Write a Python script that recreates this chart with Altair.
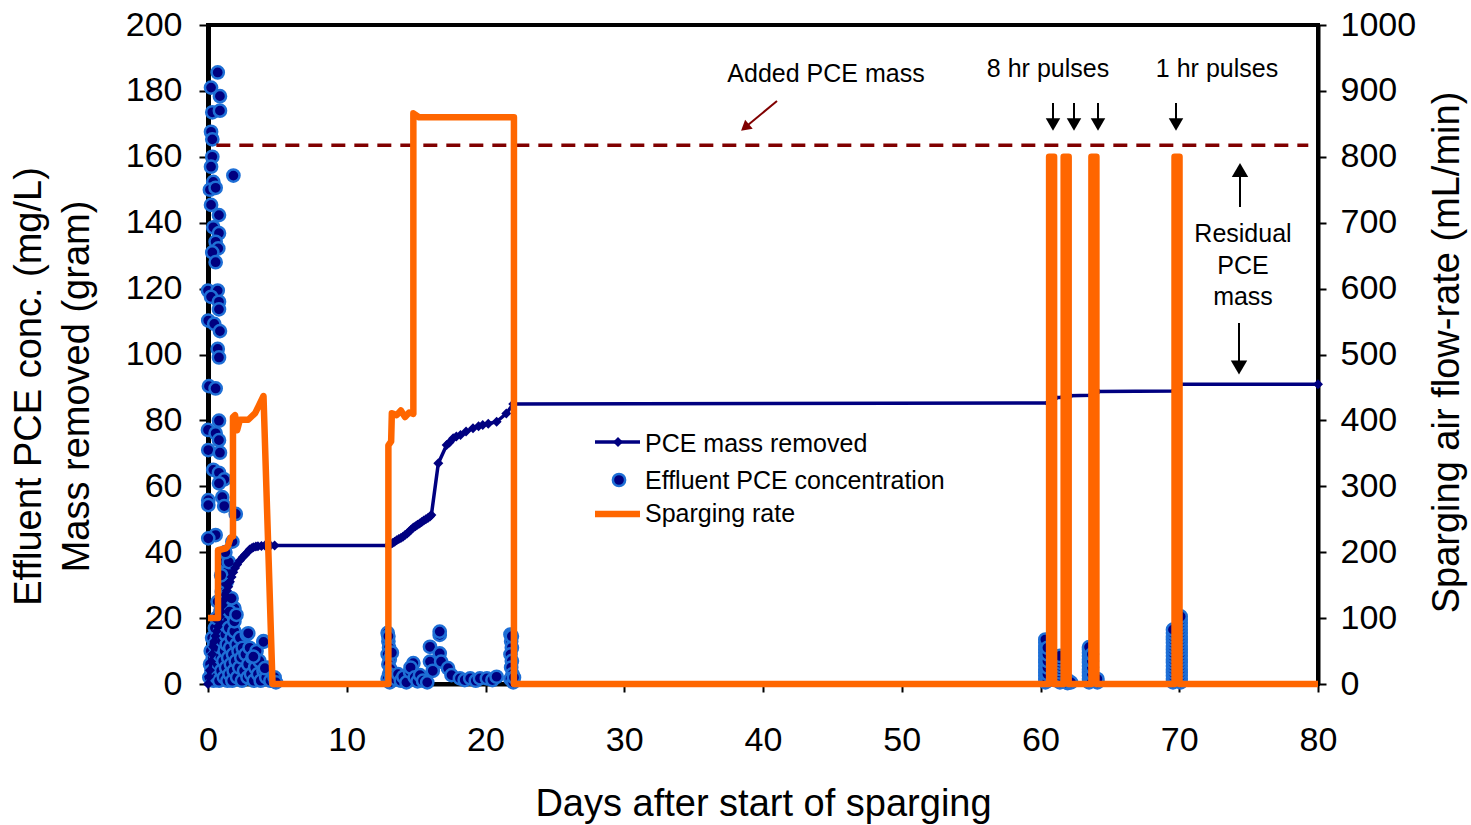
import altair as alt
import pandas as pd

# ---------------- data ----------------
# PCE mass removed (gram) - left axis
mass_day = [0, 0.07, 0.14, 0.22, 0.3, 0.38, 0.46, 0.54, 0.62, 0.7, 0.78, 0.86, 0.95, 1.05, 1.15,
            1.25, 1.35, 1.46, 1.58, 1.7, 1.82, 1.95, 2.1, 2.3, 2.5, 2.67, 2.85, 3.0, 3.15, 3.27,
            3.45, 3.6, 3.85, 4.1, 4.5, 4.8,
            13.0, 13.15, 13.3, 13.45, 13.6, 13.75, 13.9, 14.05, 14.2, 14.35, 14.5, 14.65, 14.8,
            14.95, 15.1, 15.25, 15.4, 15.55, 15.7, 15.85, 16.0, 16.1, 16.6, 17.2, 17.4, 17.67,
            17.9, 18.2, 18.6, 19.1, 19.5, 19.8, 20.2, 20.8, 21.5, 22.0,
            60.6, 61.0, 61.7, 62.05, 63.7, 64.05, 69.7, 69.95, 80.0]
mass_gram = [0, 2.2, 4.2, 6.8, 9.0, 11.3, 13.0, 14.6, 16.0, 17.4, 18.9, 20.4, 22.0, 23.8, 25.5,
             27.0, 28.3, 29.5, 31.0, 32.5, 33.9, 35.2, 36.3, 37.5, 38.5, 39.2, 40.0, 40.8, 41.2, 41.5,
             41.7, 41.8, 41.9, 42.0, 42.0, 42.0,
             42.0, 42.4, 42.8, 43.2, 43.6, 44.0, 44.3, 44.7, 45.2, 45.7, 46.3, 46.9, 47.5,
             47.9, 48.3, 48.7, 49.2, 49.6, 50.0, 50.4, 50.8, 51.3, 67.0, 72.5, 73.3, 74.6,
             75.1, 75.6, 76.6, 77.6, 78.2, 78.6, 79.0, 79.6, 82.1, 85.0,
             85.3, 86.9, 87.0, 87.5, 87.6, 88.8, 88.9, 91.0, 91.0]

# Effluent PCE concentration (mg/L) - left axis
conc_day_high = [0.70, 0.22, 0.86, 0.31, 0.86, 0.22, 0.31, 0.31, 0.22, 1.83, 0.38, 0.14, 0.55, 0.22,
                 0.79, 0.38, 0.79, 0.55, 0.74, 0.31, 0.55,
                 0.00, 0.70, 0.22, 0.79, 0.79, 0.02, 0.45, 0.86, 0.70, 0.79, 0.07, 0.55, 0.79, 0.00,
                 0.55, 0.79, 0.02, 0.86, 0.38, 0.79, 1.18, 0.79, 1.03, 0.02, 0.02, 1.17, 2.00, 0.55,
                 0.02, 1.76, 1.23, 1.46, 1.34, 1.46, 1.90, 1.83]
conc_high = [185.6, 181, 178.4, 173.5, 174, 167.6, 165.3, 160, 157, 154.3, 152.4, 150, 150.6, 145.4,
             142.3, 138.6, 136.8, 134.2, 132.2, 131, 128,
             119.4, 119.4, 117.5, 116, 113.7, 110.3, 109.3, 107.1, 101.7, 99.1, 90.4, 89.7, 79.9, 77.1,
             76.1, 74, 71, 70.2, 65, 64.1, 62.1, 60.9, 56.7, 55.8, 54.3, 54, 51.6, 45.2,
             44.2, 43.2, 37.1, 34.1, 31, 26, 23, 21]
conc_day_low = [0.1, 0.15, 0.2, 0.25, 0.3, 0.35, 0.4, 0.45, 0.5, 0.5, 0.55, 0.6, 0.65, 0.7, 0.75, 0.8,
                0.85, 0.9, 0.95, 1.0, 1.05, 1.1, 1.15, 1.2, 1.25, 1.3, 1.35, 1.4, 1.45, 1.5, 1.55,
                1.6, 1.65, 1.7, 1.75, 1.8, 1.85, 1.9, 2.0, 2.05, 2.1, 2.2, 2.25, 2.3, 2.4, 2.45, 2.5,
                2.6, 2.7, 2.8, 2.85, 2.9, 3.0, 3.1, 3.2, 3.3, 3.4, 3.5, 3.6, 3.7, 3.8, 4.0, 4.0, 4.2,
                4.3, 4.5, 4.8, 4.9,
                0.9, 1.0, 1.1, 1.2, 1.3, 1.35, 1.5, 1.55, 1.7, 1.9, 2.05, 2.9, 4.0, 3.27, 4.1, 0.6,
                0.7, 1.25, 0.95]
conc_low = [2, 6, 10, 4, 14, 8, 1, 12, 17, 5, 9, 2, 14, 6, 11, 1,
            16, 8, 4, 13, 19, 7, 2, 10, 15, 5, 12, 1, 8, 17, 3,
            11, 6, 14, 1, 9, 4, 16, 7, 12, 2, 10, 5, 14, 8, 1, 11,
            4, 9, 15, 2, 6, 11, 3, 8, 1, 5, 10, 3, 7, 1, 4, 13, 2,
            5, 1, 2, 0.5,
            22, 28, 24, 31, 27, 34, 37, 22, 26, 19, 21, 15.4, 12.8, 8.3, 4.8, 20,
            25, 40, 33]
conc_day_mid = [12.95, 13.0, 13.05, 12.95, 13.1, 13.0, 13.15, 13.05, 12.95, 13.1, 13.2, 13.25, 13.0,
                13.5, 13.7, 13.9, 14.08, 14.3, 14.56, 14.8, 14.6, 14.9, 15.1, 15.28, 15.5, 15.8,
                16.0, 16.0, 16.2, 16.7, 16.7, 16.7, 16.8, 17.3, 17.55, 18.16, 18.5, 18.9, 19.3,
                19.6, 20.1, 20.5, 20.8,
                21.8, 21.85, 21.9, 21.8, 21.9, 21.85, 21.95, 21.8, 22.0, 22.05, 21.9]
conc_mid = [15.5, 13, 11, 9, 7.5, 6, 4.5, 3, 1.5, 0.5, 2.5, 9.5, 14.5,
            1.5, 3, 1, 2.2, 0.5, 3.7, 6.3, 5.0, 2, 0.8, 2.7, 1, 0.5,
            11.3, 6.8, 4.0, 14.9, 15.9, 9.3, 6.8, 4.8, 2.7, 1.7, 1.2, 1.7, 1.0,
            1.7, 1.7, 1.2, 2.2,
            15, 13, 11, 9, 7, 5, 3, 1.5, 0.5, 2, 14.5]
conc_day_pulse = [60.35, 60.35, 60.35, 60.35, 60.35, 60.35, 60.35, 60.35, 60.35, 60.35, 60.35, 60.35,
                  60.35, 60.35, 60.5, 60.5, 60.5, 60.5, 60.5, 60.5,
                  61.4, 61.4, 61.4, 61.4, 61.4, 61.4, 61.4, 61.4, 61.4, 61.95, 61.95, 62.2,
                  63.5, 63.5, 63.5, 63.5, 63.5, 63.5, 63.5, 63.5, 63.5, 63.5, 63.5, 63.5,
                  63.7, 63.7, 63.7, 63.7, 63.7, 64.1, 64.1,
                  69.55, 69.55, 69.55, 69.55, 69.55, 69.55, 69.55, 69.55, 69.55, 69.55, 69.55,
                  69.55, 69.55, 69.55, 69.55, 69.55, 69.55,
                  70.1, 70.1, 70.1, 70.1, 70.1, 70.1, 70.1, 70.1, 70.1, 70.1, 70.1, 70.1, 70.1,
                  70.1, 70.1, 70.1, 70.1, 70.1, 70.1, 70.1, 70.1]
conc_pulse = [0.5, 1.5, 2.5, 3.5, 4.5, 5.5, 6.5, 7.5, 8.5, 9.5, 10.5, 11.5,
              12.5, 13.5, 1, 3, 5, 7, 9, 11,
              0.5, 1.5, 2.5, 3.5, 4.5, 5.5, 6.5, 7.5, 8.5, 0.3, 1.2, 0.5,
              0.5, 1.5, 2.5, 3.5, 4.5, 5.5, 6.5, 7.5, 8.5, 9.5, 10.5, 11.2,
              1, 3, 5, 7, 9, 0.5, 1.5,
              0.5, 1.5, 2.5, 3.5, 4.5, 5.5, 6.5, 7.5, 8.5, 9.5, 10.5,
              11.5, 12.5, 13.5, 14.5, 15.5, 16.5,
              0.5, 1.5, 2.5, 3.5, 4.5, 5.5, 6.5, 7.5, 8.5, 9.5, 10.5, 11.5, 12.5,
              13.5, 14.5, 15.5, 16.5, 17.5, 18.5, 19.5, 20.5]

# Sparging air flow-rate (mL/min) - right axis
sparge_day = [0, 0.72, 0.72, 1.3, 1.45, 1.62, 1.8, 1.8, 1.95, 2.1,
              2.3, 2.9, 3.4, 4.0, 4.65, 13.0, 13.0, 13.2, 13.25, 13.6,
              13.9, 14.2, 14.5, 14.8, 14.8, 15.2, 22.05, 22.05, 60.62, 60.62,
              60.98, 60.98, 61.67, 61.67, 62.03, 62.03, 63.67, 63.67, 64.03, 64.03,
              69.66, 69.66, 70.02, 70.02, 80]
sparge_rate = [100, 100, 203, 206, 210, 222, 224, 405, 408, 385,
               401, 401, 411, 437, 0, 0, 362, 368, 411, 408,
               415, 405, 412, 410, 866, 860, 860, 0, 0, 800,
               800, 0, 0, 800, 800, 0, 0, 800, 800, 0,
               0, 800, 800, 0, 0]

# Added PCE mass (reference line)
added_mass = [163.5]
added_from = [0.6]
added_to = [79.3]

x_ticks = [0, 10, 20, 30, 40, 50, 60, 70, 80]
left_ticks = [0, 20, 40, 60, 80, 100, 120, 140, 160, 180, 200]
right_ticks = [0, 100, 200, 300, 400, 500, 600, 700, 800, 900, 1000]

# ---------------- frames ----------------
mass_df = pd.DataFrame({"day": mass_day, "val": mass_gram})
conc_df = pd.DataFrame({
    "day": conc_day_high + conc_day_low + conc_day_mid + conc_day_pulse,
    "val": conc_high + conc_low + conc_mid + conc_pulse,
})
sparge_df = pd.DataFrame({"day": sparge_day, "rate": sparge_rate, "i": list(range(len(sparge_day)))})
added_df = pd.DataFrame({"x0": added_from, "x1": added_to, "y": added_mass})
dummy = pd.DataFrame({"a": [0]})

# ---------------- geometry helpers (plot area origin) ----------------
PL, PT, PW, PH = 208, 25, 1110, 659
FONT = "Liberation Sans"
NAVY = "#000080"
ORANGE = "#FF6600"
DARKRED = "#800000"
LIGHTBLUE = "#1E6FD6"
DOT_SIZE = 150


def px(X):
    return X - PL


def py(Y):
    return Y - PT


xscale = alt.Scale(domain=[0, 80], nice=False, zero=False)
lscale = alt.Scale(domain=[0, 200], nice=False, zero=True)
rscale = alt.Scale(domain=[0, 1000], nice=False, zero=True)

x_axis = alt.Axis(values=x_ticks, title="Days after start of sparging", labelFontSize=34,
                  tickSize=8, tickWidth=2, labelPadding=31, domainWidth=4, labelFlush=False,
                  titleFontSize=38, titleFontWeight="normal", titleX=555, titleY=131,
                  titleBaseline="alphabetic", titleAnchor="middle")
left_axis = alt.Axis(values=left_ticks, title=["Effluent PCE conc. (mg/L)", "Mass removed (gram)"],
                     labelFontSize=34, tickSize=9, tickWidth=2, labelPadding=17, domainWidth=5,
                     labelFlush=False,
                     titleFontSize=38, titleFontWeight="normal", titleAngle=270,
                     titleX=-168, titleY=361, titleAlign="center", titleBaseline="alphabetic",
                     titleLineHeight=48)
right_axis = alt.Axis(values=right_ticks, title="Sparging air flow-rate (mL/min)", orient="right",
                      format="d", labelFlush=False,
                      labelFontSize=34, tickSize=8, tickWidth=2, labelPadding=14, domainWidth=4,
                      titleFontSize=38, titleFontWeight="normal", titleAngle=270,
                      titleX=140, titleY=327, titleAlign="center", titleBaseline="alphabetic")

X = alt.X("day:Q", scale=xscale, axis=x_axis)

dashed = alt.Chart(added_df).mark_rule(color=DARKRED, strokeWidth=3.5, strokeDash=[14, 9]).encode(
    x=alt.X("x0:Q", scale=xscale, axis=x_axis), x2="x1:Q",
    y=alt.Y("y:Q", scale=lscale, axis=left_axis))

scatter = alt.Chart(conc_df).mark_point(shape="circle", filled=True, fill=NAVY, stroke=LIGHTBLUE,
                                        strokeWidth=2.5, size=DOT_SIZE, opacity=1).encode(
    x=X, y=alt.Y("val:Q", scale=lscale, axis=left_axis))

massline = alt.Chart(mass_df).mark_line(
    color=NAVY, strokeWidth=3.5,
    point=alt.OverlayMarkDef(shape="diamond", size=100, filled=True, fill=NAVY, stroke=NAVY, strokeWidth=0)
).encode(x=X, y=alt.Y("val:Q", scale=lscale, axis=left_axis))

left_layer = alt.layer(scatter, massline, dashed)

orange = alt.Chart(sparge_df).mark_line(color=ORANGE, strokeWidth=6.5, strokeJoin="round").encode(
    x=X, y=alt.Y("rate:Q", scale=rscale, axis=right_axis), order=alt.Order("i:Q"))


# ---------------- annotations ----------------
def text(s, X_, Y_, size=25, align="center", color="black", lh=None):
    kw = dict(text=s, fontSize=size, align=align, baseline="alphabetic", color=color, font=FONT)
    if lh is not None:
        kw["lineHeight"] = lh
    return alt.Chart(dummy).mark_text(**kw).encode(x=alt.value(px(X_)), y=alt.value(py(Y_)))


def seg(x1, y1, x2, y2, color="black", w=2):
    return alt.Chart(dummy).mark_rule(color=color, strokeWidth=w).encode(
        x=alt.value(px(x1)), y=alt.value(py(y1)), x2=alt.value(px(x2)), y2=alt.value(py(y2)))


def head(X_, Y_, shape="triangle-down", size=200, color="black", angle=0):
    return alt.Chart(dummy).mark_point(shape=shape, filled=True, color=color, size=size, opacity=1,
                                       angle=angle, strokeWidth=0).encode(
        x=alt.value(px(X_)), y=alt.value(py(Y_)))


ann = [
    text("Added PCE mass", 826, 82),
    seg(777, 101, 748, 125, DARKRED, 2),
    head(745, 127.5, "triangle-up", 140, DARKRED, 230),
    text("8 hr pulses", 1048, 77),
    text("1 hr pulses", 1217, 77),
    text(["Residual", "PCE", "mass"], 1243, 242, lh=31.5),
]
for ax_ in [1053, 1074, 1098, 1176]:
    ann.append(seg(ax_, 103, ax_, 121))
    ann.append(head(ax_, 124.5, "triangle-down", 210))
ann += [
    seg(1240, 176, 1240, 207),
    head(1240, 170, "triangle-up", 270),
    seg(1239, 323, 1239, 362),
    head(1239, 367.5, "triangle-down", 270),
]

# legend
leg = [
    seg(595, 442, 640, 442, NAVY, 3.5),
    head(618, 442, "diamond", 100, NAVY),
    alt.Chart(dummy).mark_point(shape="circle", filled=True, fill=NAVY, stroke=LIGHTBLUE, strokeWidth=2.5,
                                size=DOT_SIZE, opacity=1).encode(x=alt.value(px(619)), y=alt.value(py(480))),
    seg(595, 514, 640, 514, ORANGE, 6.5),
    text("PCE mass removed", 645, 452, align="left"),
    text("Effluent PCE concentration", 645, 489, align="left"),
    text("Sparging rate", 645, 522, align="left"),
]

chart = alt.layer(left_layer, orange, *ann, *leg).resolve_scale(y="independent").properties(
    width=PW, height=PH,
    padding={"left": PL, "top": PT, "right": 1471 - PL - PW, "bottom": 825 - PT - PH},
    autosize=alt.AutoSizeParams(type="none"),
).configure(font=FONT).configure_view(stroke="black", strokeWidth=4).configure_axis(
    grid=False, labelColor="black", domainColor="black", tickColor="black", titleColor="black",
    labelFont=FONT, titleFont=FONT)

chart.save("out.html", embed_options={"renderer": "svg", "actions": False})
